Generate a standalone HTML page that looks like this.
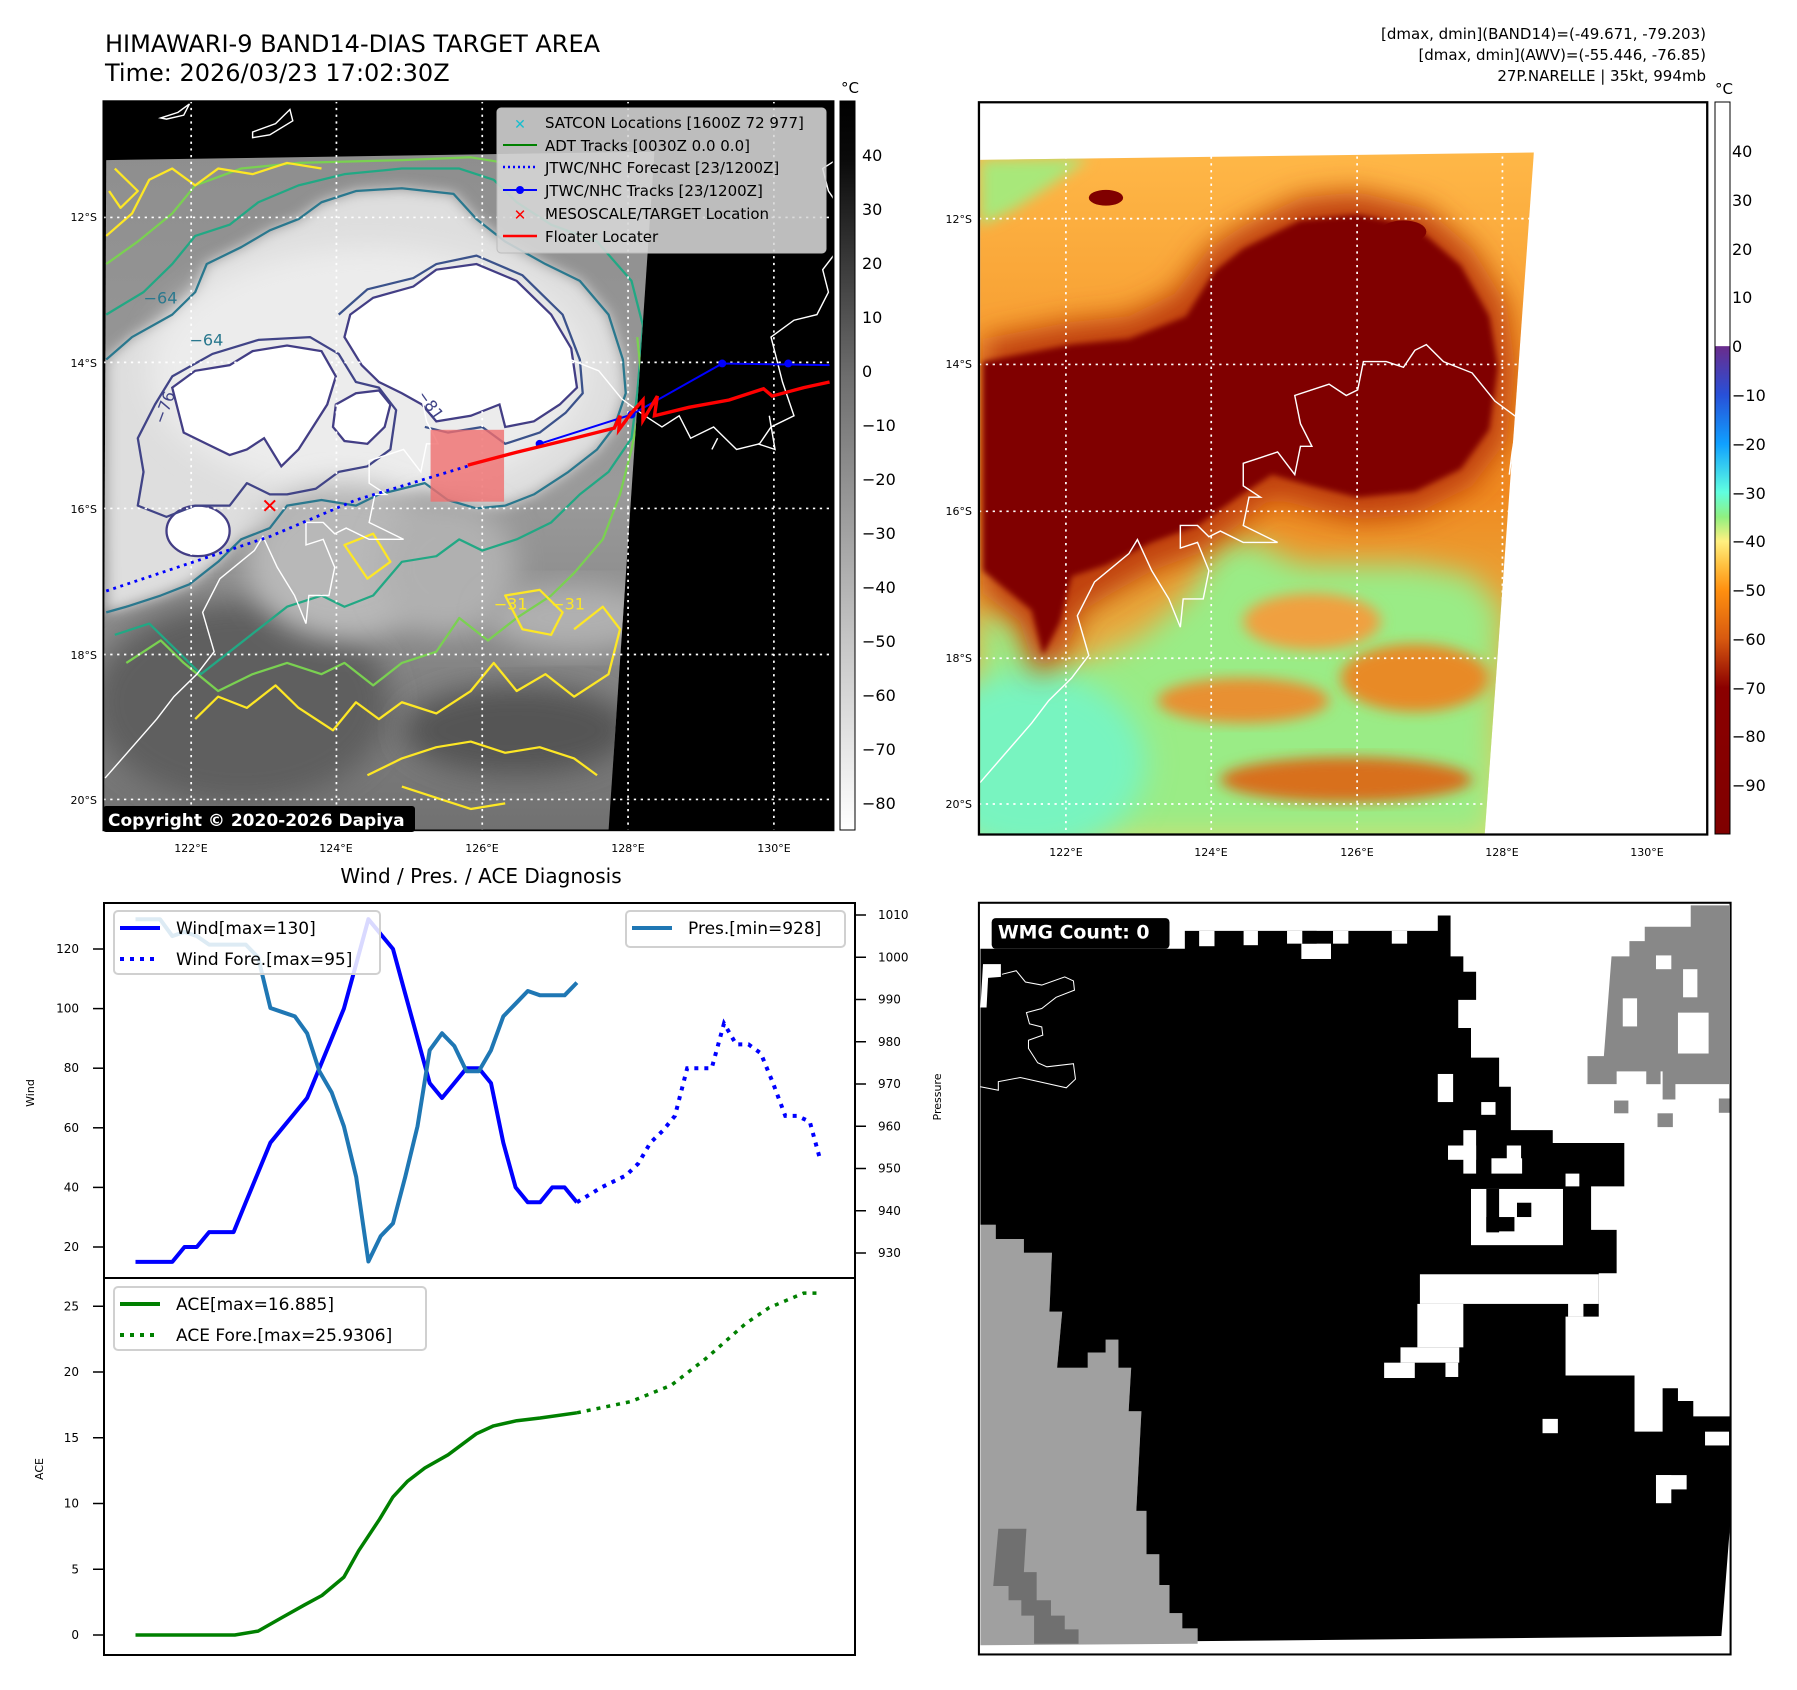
<!DOCTYPE html>
<html><head><meta charset="utf-8"><title>HIMAWARI-9 BAND14 DIAS</title>
<style>
html,body{margin:0;padding:0;background:#fff;}
svg{display:block;font-family:"DejaVu Sans","Liberation Sans",sans-serif;}
</style></head>
<body>
<svg id="fig" width="1797" height="1690" viewBox="0 0 1797 1690" xmlns="http://www.w3.org/2000/svg">
<defs>
  <clipPath id="clipL"><rect x="180" y="180" width="1272" height="1298"/></clipPath>
  <clipPath id="clipR"><rect x="138" y="181" width="1273" height="1296"/></clipPath>
  <clipPath id="dataR"><path d="M140,283 L1108,270 L1022,1477 L140,1477 Z"/></clipPath>
  <clipPath id="dataL"><path d="M185,285 L1140,270 L1060,1478 L180,1478 Z"/></clipPath>
  <filter id="blur12" x="-20%" y="-20%" width="140%" height="140%"><feGaussianBlur stdDeviation="12"/></filter>
  <filter id="blur25" x="-20%" y="-20%" width="140%" height="140%"><feGaussianBlur stdDeviation="25"/></filter>
  <filter id="blur5"><feGaussianBlur stdDeviation="5"/></filter>
  <linearGradient id="cbL" x1="0" y1="0" x2="0" y2="1">
    <stop offset="0" stop-color="#000"/><stop offset="0.08" stop-color="#0a0a0a"/>
    <stop offset="0.38" stop-color="#6e6e6e"/><stop offset="0.75" stop-color="#c8c8c8"/>
    <stop offset="1" stop-color="#ffffff"/>
  </linearGradient>
  <linearGradient id="cbR" x1="0" y1="0" x2="0" y2="1">
    <stop offset="0" stop-color="#fff"/><stop offset="0.333" stop-color="#fff"/>
    <stop offset="0.334" stop-color="#6a2c8c"/><stop offset="0.40" stop-color="#2850d8"/>
    <stop offset="0.467" stop-color="#10a0ff"/><stop offset="0.533" stop-color="#60ffe0"/>
    <stop offset="0.567" stop-color="#90f080"/><stop offset="0.60" stop-color="#fff080"/>
    <stop offset="0.633" stop-color="#ffc040"/><stop offset="0.667" stop-color="#ff9010"/>
    <stop offset="0.733" stop-color="#d85a10"/><stop offset="0.80" stop-color="#8b0000"/>
    <stop offset="1" stop-color="#800000"/>
  </linearGradient>
  <linearGradient id="grayBase" x1="0" y1="0" x2="0" y2="1">
    <stop offset="0" stop-color="#8e8e8e"/><stop offset="0.5" stop-color="#9a9a9a"/><stop offset="1" stop-color="#707070"/>
  </linearGradient>
  <linearGradient id="rBase" x1="0" y1="0" x2="0" y2="1">
    <stop offset="0" stop-color="#ffb848"/><stop offset="0.5" stop-color="#f08a20"/><stop offset="1" stop-color="#d8e070"/>
  </linearGradient>
</defs>

<text x="105" y="52" font-size="24" fill="#000">HIMAWARI-9 BAND14-DIAS TARGET AREA</text>
<text x="105" y="81" font-size="24" fill="#000">Time: 2026/03/23 17:02:30Z</text>
<g font-size="15" text-anchor="end" fill="#000">
  <text x="1706" y="39">[dmax, dmin](BAND14)=(-49.671, -79.203)</text>
  <text x="1706" y="60">[dmax, dmin](AWV)=(-55.446, -76.85)</text>
  <text x="1706" y="81">27P.NARELLE | 35kt, 994mb</text>
</g>

<!-- LEFT MAP -->
<g>
 <g transform="scale(0.5741,0.5618)">
  <g clip-path="url(#clipL)">
   <rect x="180" y="180" width="1272" height="1298" fill="#000"/>
   <g clip-path="url(#dataL)">
    <rect x="180" y="260" width="1000" height="1230" fill="url(#grayBase)"/>
    <ellipse cx="420" cy="1250" rx="260" ry="180" fill="#5e5e5e" filter="url(#blur25)"/>
    <ellipse cx="900" cy="1300" rx="200" ry="80" fill="#555" filter="url(#blur25)"/>
    <path d="M185,640 L230,600 L300,560 L340,520 L360,470 L420,440 L470,410 L520,390 L560,360 L620,340 L700,335 L790,345 L830,390 L880,430 L950,470 L1010,500 L1060,560 L1085,640 L1090,700 L1070,760 L1040,800 L990,840 L930,880 L880,900 L830,905 L780,890 L740,860 L700,870 L660,880 L620,900 L560,890 L500,900 L470,940 L420,960 L380,1000 L330,1040 L280,1060 L220,1080 L185,1090 Z" fill="#dedede" filter="url(#blur12)"/>
    <ellipse cx="640" cy="660" rx="380" ry="220" fill="#ececec" filter="url(#blur25)"/>
    <ellipse cx="600" cy="1000" rx="170" ry="140" fill="#b8b8b8" filter="url(#blur25)"/>
    <ellipse cx="780" cy="1010" rx="120" ry="120" fill="#b0b0b0" filter="url(#blur25)"/>
    <ellipse cx="1000" cy="1100" rx="150" ry="60" fill="#b0b0b0" filter="url(#blur25)"/>
    <path d="M300,690 L340,660 L400,650 L440,625 L500,615 L560,625 L585,670 L570,720 L545,760 L520,800 L490,830 L460,780 L430,800 L400,810 L360,790 L320,770 L310,730 Z" fill="#fff" stroke="#433e85" stroke-width="4"/>
    <path d="M610,560 L650,530 L720,510 L760,480 L830,470 L900,500 L960,560 L995,620 L1005,690 L975,720 L930,750 L880,760 L870,720 L820,740 L760,750 L735,720 L700,700 L660,680 L630,650 L600,600 Z" fill="#fff" stroke="#433e85" stroke-width="4"/>
    <path d="M585,720 L620,700 L660,695 L680,720 L670,760 L640,790 L600,785 L580,760 Z" fill="#fff" stroke="#433e85" stroke-width="4"/>
    <ellipse cx="345" cy="945" rx="55" ry="45" fill="#fff" stroke="#433e85" stroke-width="4"/>
    <g fill="none" stroke-width="4" stroke-linejoin="round">
     <path d="M240,900 L250,840 L240,780 L270,720 L300,670 L370,630 L450,605 L540,600 L590,630 L620,680 L660,690 L690,730 L680,800 L640,830 L590,840 L550,870 L500,880 L470,880 L430,860 L400,900 L340,900 L290,920 Z" stroke="#414487"/>
     <path d="M590,560 L640,515 L720,495 L760,470 L830,455 L910,490 L980,560 L1010,640 L1015,700 L985,735 L940,770 L880,790 L840,760 L780,770 L740,760" stroke="#3b528b"/>
     <path d="M185,640 L230,600 L300,560 L340,520 L360,470 L420,440 L470,410 L520,390 L560,360 L620,340 L700,335 L790,345 L830,390 L880,430 L950,470 L1010,500 L1060,560 L1085,640 L1090,700 L1070,760 L1040,800 L990,840 L930,880 L880,900 L830,905 L780,890 L740,860 L700,870 L660,880 L620,900 L560,890 L500,900 L470,940 L420,960 L380,1000 L330,1040 L280,1060 L220,1080 L185,1090" stroke="#2a788e"/>
     <path d="M185,560 L250,520 L300,470 L340,420 L400,400 L450,360 L520,330 L600,310 L700,300 L800,300 L860,320 L900,360 L960,400 L1040,430 L1100,500 L1120,580 L1110,700 L1100,780 L1060,840 L1010,880 L960,930 L900,960 L840,980 L800,960 L760,990 L700,1000 L650,1060 L600,1080 L560,1060 L500,1080 L450,1120 L400,1160 L350,1200 L300,1150 L260,1110 L200,1130" stroke="#22a884"/>
     <path d="M185,470 L240,430 L300,380 L340,330 L420,300 L520,290 L700,285 L820,280 L880,290 M1110,600 L1120,700 L1100,800 L1080,880 L1050,960 L1000,1020 L960,1060 L900,1100 L850,1140 L800,1100 L760,1160 L700,1180 L650,1220 L600,1180 L560,1200 L500,1180 L440,1200 L380,1230 L320,1180 L280,1140 L220,1180" stroke="#7ad151"/>
     <path d="M185,420 L230,380 L260,320 L300,300 L340,330 L380,300 L440,310 L500,290 L560,300 M200,300 L240,340 L210,370 L190,340 M1000,1120 L1050,1080 L1080,1120 L1060,1200 L1000,1240 L950,1200 L900,1230 L860,1180 L820,1230 L760,1270 L700,1250 L660,1280 L620,1250 L580,1300 L520,1260 L480,1220 L430,1260 L380,1240 L340,1280 M640,1380 L700,1350 L760,1330 L820,1320 L880,1340 L940,1330 L1000,1350 L1040,1380 M700,1400 L760,1420 L820,1440 L880,1430 M880,1060 L940,1050 L980,1090 L960,1130 L910,1120 Z M600,970 L650,950 L680,1000 L640,1030 Z" stroke="#fde725"/>
    </g>
    <g font-size="28">
     <text x="250" y="540" fill="#2a788e">−64</text>
     <text x="330" y="615" fill="#2a788e">−64</text>
     <text x="720" y="720" fill="#414487" transform="rotate(55 740 715)">−81</text>
     <text x="860" y="1085" fill="#fde725">−31</text>
     <text x="960" y="1085" fill="#fde725">−31</text>
     <text x="260" y="760" fill="#414487" transform="rotate(-70 270 740)">−76</text>
    </g>
   </g>
   <g fill="none" stroke="#fff" stroke-width="2.5">
    <path transform="translate(43,0)" d="M140,1385 L230,1280 L260,1240 L300,1200 L330,1160 L310,1090 L340,1030 L400,980 L415,955 L440,1010 L470,1060 L490,1110 L495,1060 L530,1060 L540,1010 L520,960 L490,970 L490,930 L520,930 L540,950 L560,940 L600,960 L660,960 L600,930 L610,880 L630,880 L600,860 L600,820 L630,810 L660,800 L690,840 L700,790 L720,790 L700,750 L690,700 L750,680 L780,700 L800,690 L810,640 L850,640 L880,650 L900,620 L920,610 L950,640 L1000,660 L1040,710 L1080,740 L1110,760 L1140,740 L1160,780 L1200,760 L1240,800 L1280,790 L1300,760 L1340,740 L1320,680 L1300,600 L1340,570 L1380,560 L1400,520 L1390,480 L1420,440 L1440,400 L1400,340 L1390,300 L1420,280"/>
    <path d="M1320,790 L1350,800 L1340,740 M1250,780 L1240,800"/>
    <path d="M280,210 L310,200 L330,185 L320,205 L290,212 Z"/>
    <path d="M440,235 L480,220 L505,195 L510,215 L470,240 L440,245 Z"/>
   </g>
   <g stroke="#fff" stroke-width="3" stroke-dasharray="4,8" fill="none">
    <line x1="333" y1="180" x2="333" y2="1478"/><line x1="586" y1="180" x2="586" y2="1478"/>
    <line x1="840" y1="180" x2="840" y2="1478"/><line x1="1094" y1="180" x2="1094" y2="1478"/>
    <line x1="1348" y1="180" x2="1348" y2="1478"/>
    <line x1="180" y1="387" x2="1452" y2="387"/><line x1="180" y1="645" x2="1452" y2="645"/>
    <line x1="180" y1="905" x2="1452" y2="905"/><line x1="180" y1="1165" x2="1452" y2="1165"/>
    <line x1="180" y1="1423" x2="1452" y2="1423"/>
   </g>
   <rect x="750" y="765" width="128" height="128" fill="rgba(240,110,110,0.8)"/>
   <polyline points="185,1052 470,955 620,890 820,828" fill="none" stroke="#0000ff" stroke-width="5" stroke-dasharray="5,8"/>
   <g>
    <polyline points="940,790 1100,738 1258,647 1445,650" fill="none" stroke="#0000ff" stroke-width="3.5"/>
    <circle cx="940" cy="790" r="7" fill="#00f"/><circle cx="1100" cy="738" r="7" fill="#00f"/>
    <circle cx="1258" cy="647" r="7" fill="#00f"/><circle cx="1373" cy="647" r="7" fill="#00f"/>
   </g>
   <polyline points="815,828 900,805 1000,780 1070,762 1080,740 1078,765 1100,735 1120,712 1120,748 1145,705 1140,740 1200,725 1270,712 1330,692 1345,705 1400,690 1445,680" fill="none" stroke="#ff0000" stroke-width="6"/>
   <text x="470" y="913" font-size="36" font-weight="bold" fill="#ff0000" text-anchor="middle">✕</text>
  </g>
  <rect x="180" y="180" width="1272" height="1298" fill="none" stroke="#000" stroke-width="3"/>
 </g>
 <g>
  <rect x="497" y="108" width="329" height="145" rx="4" fill="rgba(215,215,215,0.88)" stroke="#bbb"/>
  <g font-size="15" fill="#000">
   <text x="545" y="128">SATCON Locations [1600Z 72 977]</text>
   <text x="545" y="151">ADT Tracks [0030Z 0.0 0.0]</text>
   <text x="545" y="173">JTWC/NHC Forecast [23/1200Z]</text>
   <text x="545" y="196">JTWC/NHC Tracks [23/1200Z]</text>
   <text x="545" y="219">MESOSCALE/TARGET Location</text>
   <text x="545" y="242">Floater Locater</text>
  </g>
  <text x="520" y="129" font-size="14" fill="#17becf" text-anchor="middle" font-weight="bold">✕</text>
  <line x1="503" y1="145" x2="537" y2="145" stroke="#008000" stroke-width="2"/>
  <line x1="503" y1="167" x2="537" y2="167" stroke="#0000ff" stroke-width="2.5" stroke-dasharray="2,3"/>
  <line x1="503" y1="190" x2="537" y2="190" stroke="#0000ff" stroke-width="2"/><circle cx="520" cy="190" r="4" fill="#00f"/>
  <text x="520" y="220" font-size="15" fill="#ff0000" text-anchor="middle" font-weight="bold">✕</text>
  <line x1="503" y1="236" x2="537" y2="236" stroke="#ff0000" stroke-width="2.5"/>
 </g>
 <g>
  <rect x="103" y="806" width="312" height="26" rx="3" fill="#000"/>
  <text x="108" y="826" font-size="17" font-weight="bold" fill="#fff">Copyright © 2020-2026 Dapiya</text>
 </g>
 <g font-size="11" fill="#000">
  <g text-anchor="end"><text x="97" y="221">12°S</text><text x="97" y="367">14°S</text><text x="97" y="513">16°S</text><text x="97" y="659">18°S</text><text x="97" y="804">20°S</text></g>
  <g text-anchor="middle"><text x="191" y="852">122°E</text><text x="336" y="852">124°E</text><text x="482" y="852">126°E</text><text x="628" y="852">128°E</text><text x="774" y="852">130°E</text></g>
 </g>
 <g>
  <rect x="840" y="101" width="15" height="729" fill="url(#cbL)" stroke="#000" stroke-width="1"/>
  <text x="850" y="93" font-size="15" text-anchor="middle">°C</text>
  <g font-size="16" fill="#000">
   <text x="862" y="161">40</text><text x="862" y="215">30</text><text x="862" y="269">20</text><text x="862" y="323">10</text><text x="862" y="377">0</text>
   <text x="862" y="431">−10</text><text x="862" y="485">−20</text><text x="862" y="539">−30</text><text x="862" y="593">−40</text><text x="862" y="647">−50</text><text x="862" y="701">−60</text><text x="862" y="755">−70</text><text x="862" y="809">−80</text>
  </g>
 </g>
</g>

<!-- RIGHT MAP -->
<g>
 <g transform="translate(900,0) scale(0.5721,0.5650)">
  <g clip-path="url(#clipR)">
   <rect x="138" y="181" width="1273" height="1296" fill="#fff"/>
   <g clip-path="url(#dataR)">
    <rect x="130" y="260" width="1000" height="1230" fill="url(#rBase)"/>
    <path d="M140,283 L330,280 L260,330 L200,370 L140,400 Z" fill="#a8e87a" filter="url(#blur12)"/>
    <path d="M140,1080 L200,1100 L260,1180 L330,1170 L420,1130 L500,1060 L560,960 L620,960 L700,1000 L800,1000 L900,1000 L1000,1020 L1050,1080 L1040,1200 L1030,1477 L140,1477 Z" fill="#9aec86" filter="url(#blur25)"/>
    <ellipse cx="230" cy="1350" rx="200" ry="160" fill="#78f4c0" filter="url(#blur25)"/>
    <ellipse cx="780" cy="1380" rx="220" ry="40" fill="#d8701a" filter="url(#blur12)"/>
    <ellipse cx="600" cy="1240" rx="150" ry="40" fill="#e89030" filter="url(#blur12)"/>
    <ellipse cx="900" cy="1200" rx="130" ry="60" fill="#e88a28" filter="url(#blur12)"/>
    <ellipse cx="720" cy="1100" rx="120" ry="50" fill="#f0a040" filter="url(#blur12)"/>
    <path d="M145,600 L300,570 L400,560 L480,520 L540,440 L600,400 L700,350 L800,340 L920,370 L1000,440 L1060,540 L1075,650 L1060,780 L1000,860 L900,910 L800,920 L720,900 L650,880 L590,930 L520,980 L440,1010 L370,1050 L320,1080 L290,1150 L240,1200 L210,1100 L145,1050 Z" fill="#c04010" filter="url(#blur25)"/>
    <path d="M145,640 L300,610 L400,600 L500,560 L550,480 L600,440 L700,390 L800,380 L900,400 L980,470 L1030,560 L1045,650 L1030,760 L980,830 L900,870 L800,880 L720,860 L650,840 L590,880 L520,930 L440,960 L360,1000 L300,1020 L280,1100 L250,1160 L230,1080 L145,1010 Z" fill="#800000" filter="url(#blur5)"/>
    <ellipse cx="360" cy="350" rx="30" ry="14" fill="#800000"/>
    <ellipse cx="880" cy="410" rx="40" ry="20" fill="#800000"/>
   </g>
   <path d="M140,1385 L230,1280 L260,1240 L300,1200 L330,1160 L310,1090 L340,1030 L400,980 L415,955 L440,1010 L470,1060 L490,1110 L495,1060 L530,1060 L540,1010 L520,960 L490,970 L490,930 L520,930 L540,950 L560,940 L600,960 L660,960 L600,930 L610,880 L630,880 L600,860 L600,820 L630,810 L660,800 L690,840 L700,790 L720,790 L700,750 L690,700 L750,680 L780,700 L800,690 L810,640 L850,640 L880,650 L900,620 L920,610 L950,640 L1000,660 L1040,710 L1080,740 L1070,800 L1065,840" fill="none" stroke="#fff" stroke-width="2.5"/>
   <g stroke="#fff" stroke-width="3" stroke-dasharray="4,8" fill="none">
    <line x1="290" y1="181" x2="290" y2="1477"/><line x1="544" y1="181" x2="544" y2="1477"/>
    <line x1="799" y1="181" x2="799" y2="1477"/><line x1="1053" y1="181" x2="1053" y2="1477"/>
    <line x1="1307" y1="181" x2="1307" y2="1477"/>
    <line x1="138" y1="387" x2="1411" y2="387"/><line x1="138" y1="645" x2="1411" y2="645"/>
    <line x1="138" y1="905" x2="1411" y2="905"/><line x1="138" y1="1165" x2="1411" y2="1165"/>
    <line x1="138" y1="1423" x2="1411" y2="1423"/>
   </g>
  </g>
  <rect x="138" y="181" width="1273" height="1296" fill="none" stroke="#000" stroke-width="4"/>
 </g>
 <g font-size="11" fill="#000">
  <g text-anchor="end"><text x="972" y="223">12°S</text><text x="972" y="368">14°S</text><text x="972" y="515">16°S</text><text x="972" y="662">18°S</text><text x="972" y="808">20°S</text></g>
  <g text-anchor="middle"><text x="1066" y="856">122°E</text><text x="1211" y="856">124°E</text><text x="1357" y="856">126°E</text><text x="1502" y="856">128°E</text><text x="1647" y="856">130°E</text></g>
 </g>
 <g>
  <rect x="1715" y="102" width="15" height="732" fill="url(#cbR)" stroke="#000" stroke-width="1"/>
  <text x="1724" y="94" font-size="15" text-anchor="middle">°C</text>
  <g font-size="16" fill="#000">
   <text x="1732" y="157">40</text><text x="1732" y="206">30</text><text x="1732" y="255">20</text><text x="1732" y="303">10</text><text x="1732" y="352">0</text>
   <text x="1732" y="401">−10</text><text x="1732" y="450">−20</text><text x="1732" y="499">−30</text><text x="1732" y="547">−40</text><text x="1732" y="596">−50</text><text x="1732" y="645">−60</text><text x="1732" y="694">−70</text><text x="1732" y="742">−80</text><text x="1732" y="791">−90</text>
  </g>
 </g>
</g>

<!-- WIND / PRES / ACE -->
<g>
 <text x="481" y="883" font-size="20" text-anchor="middle">Wind / Pres. / ACE Diagnosis</text>
 <g id="windAxes"></g>
 <g id="aceAxes"></g>
 <rect x="104" y="903" width="751" height="375" fill="none" stroke="#000" stroke-width="2"/>
 <rect x="104" y="1278" width="751" height="377" fill="none" stroke="#000" stroke-width="2"/>
 <text transform="translate(34,1093) rotate(-90)" font-size="11" text-anchor="middle">Wind</text>
 <text transform="translate(941,1097) rotate(-90)" font-size="11" text-anchor="middle">Pressure</text>
 <text transform="translate(43,1469) rotate(-90)" font-size="11" text-anchor="middle">ACE</text>
 <g id="legends"></g>
</g>

<!-- WMG -->
<g>
 <g transform="translate(960,890) scale(0.511)">
  <rect x="37" y="25" width="1471" height="1471" fill="#fff"/>
  <path d="M40,655 L70,655 L70,683 L125,683 L125,710 L180,710 L175,825 L200,825 L190,935 L250,935 L250,905 L285,905 L285,880 L310,880 L310,935 L335,935 L330,1020 L355,1020 L345,1215 L365,1215 L365,1300 L390,1300 L390,1360 L410,1360 L410,1415 L435,1415 L435,1445 L465,1445 L465,1475 L40,1478 Z" fill="#a0a0a0"/>
  <path d="M75,1250 L130,1250 L125,1335 L150,1335 L150,1390 L178,1390 L178,1420 L205,1420 L205,1447 L232,1447 L232,1475 L145,1475 L145,1420 L120,1420 L120,1390 L95,1390 L95,1362 L65,1362 Z" fill="#707070"/>
  <path d="M1430,30 L1505,30 L1505,380 L1400,380 L1400,410 L1375,410 L1375,355 L1285,355 L1285,380 L1228,380 L1228,325 L1260,325 L1275,130 L1310,130 L1310,100 L1340,100 L1340,72 L1430,72 Z" fill="#888"/>
  <g fill="#fff"><rect x="1362" y="128" width="30" height="27"/><rect x="1297" y="212" width="28" height="55"/><rect x="1415" y="155" width="28" height="55"/><rect x="1405" y="240" width="60" height="80"/></g>
  <g fill="#888"><rect x="1280" y="412" width="28" height="25"/><rect x="1365" y="437" width="30" height="27"/><rect x="1485" y="408" width="22" height="28"/><rect x="1343" y="352" width="28" height="28"/></g>
  <path d="M40,115 L440,115 L440,80 L935,80 L935,50 L960,50 L960,130 L985,130 L985,160 L1010,160 L1010,215 L975,215 L975,270 L1000,270 L1000,328 L1055,328 L1055,385 L1078,385 L1078,470 L1160,470 L1160,495 L1300,495 L1300,580 L1235,580 L1235,665 L1285,665 L1285,750 L1250,750 L1250,835 L1185,835 L1185,950 L1320,950 L1320,1060 L1375,1060 L1375,975 L1405,975 L1405,1000 L1435,1000 L1435,1030 L1508,1030 L1508,1230 L1490,1460 L465,1470 L465,1445 L435,1445 L435,1415 L410,1415 L410,1360 L390,1360 L390,1300 L365,1300 L365,1215 L345,1215 L355,1020 L330,1020 L335,935 L310,935 L310,880 L285,880 L285,905 L250,905 L250,935 L190,935 L200,825 L175,825 L180,710 L125,710 L125,683 L70,683 L70,655 L40,655 Z" fill="#000"/>
  <g fill="#fff">
   <rect x="1000" y="585" width="180" height="110"/><rect x="900" y="752" width="350" height="58"/>
   <rect x="895" y="810" width="90" height="85"/><rect x="862" y="895" width="115" height="30"/><rect x="830" y="925" width="60" height="30"/>
   <rect x="950" y="925" width="25" height="28"/><rect x="1190" y="805" width="30" height="30"/>
   <rect x="935" y="360" width="30" height="55"/><rect x="1020" y="415" width="28" height="25"/>
   <rect x="955" y="500" width="55" height="28"/><rect x="985" y="470" width="25" height="85"/>
   <rect x="1040" y="525" width="60" height="30"/><rect x="1070" y="500" width="28" height="30"/>
   <rect x="1140" y="1035" width="30" height="28"/><rect x="1458" y="1060" width="47" height="27"/>
   <rect x="1362" y="1145" width="60" height="28"/><rect x="1362" y="1145" width="30" height="55"/>
   <rect x="1185" y="555" width="27" height="25"/><rect x="468" y="80" width="30" height="30"/>
   <rect x="555" y="80" width="28" height="28"/><rect x="640" y="80" width="30" height="25"/><rect x="668" y="105" width="58" height="30"/>
   <rect x="845" y="80" width="30" height="25"/><rect x="730" y="80" width="30" height="25"/>
  </g>
  <g fill="#000"><rect x="1030" y="585" width="25" height="85"/><rect x="1030" y="640" width="55" height="28"/><rect x="1090" y="612" width="28" height="28"/><rect x="670" y="80" width="28" height="25"/></g>
  <path d="M40,230 L45,145 L80,145 L80,170 L55,172 L52,230 Z" fill="#fff"/>
  <path d="M40,385 L75,392 L75,375 L118,367 L208,387 L226,370 L222,340 L170,346 L152,338 L134,310 L134,294 L162,284 L160,268 L136,262 L130,240 L160,232 L188,210 L224,196 L222,178 L205,170 L160,186 L128,180 L110,158 L82,165" fill="none" stroke="#fff" stroke-width="2"/>
  <rect x="37" y="25" width="1471" height="1471" fill="none" stroke="#000" stroke-width="4"/>
  <g>
   <rect x="62" y="55" width="348" height="60" rx="8" fill="#000"/>
   <text x="74" y="95" font-size="37" font-weight="bold" fill="#fff">WMG Count: 0</text>
  </g>
 </g>
</g>
</svg>

<script>
// ---- chart data ----
var windT = [0,1,2,3,4,5,6,7,8,9,10,11,12,13,14,15,16,17,18,19,20,21,22,23,24,25,26,27,28,29,30,31,32,33,34,35,36];
var windVals = [15,15,15,15,20,20,25,25,25,35,45,55,60,65,70,80,90,100,115,130,125,120,105,90,75,70,75,80,80,75,55,40,35,35,40,40,35];
var presVals = [1009,1009,1009,1005,1006,1005,1003,1003,1003,1003,1000,988,987,986,982,973,968,960,948,928,934,937,948,960,978,982,979,973,973,978,986,989,992,991,991,991,994];
var windForeT = [36,38,40,41,42,43,44,45,46,47,48,49,50,51,52,53,54,55,55.8];
var windForeVals = [35,40,44,48,55,59,64,80,80,80,95,88,88,85,75,64,64,62,50];
var aceT = [0,8.1,10,11.9,13.8,15.2,17,18.2,19.9,21,22.2,23.6,25.5,27.8,29.2,31.1,33,36];
var aceVals = [0,0,0.3,1.3,2.3,3,4.4,6.4,8.8,10.5,11.7,12.7,13.7,15.3,15.9,16.3,16.5,16.9];
var aceForeT = [36,40.4,43.7,46.5,49.8,51.7,54.5,55.8];
var aceForeVals = [16.9,17.75,19,21,23.7,24.9,26,26];
var windTicks = [20,40,60,80,100,120];
var presTicks = [930,940,950,960,970,980,990,1000,1010];
var aceTicks = [0,5,10,15,20,25];

function xT(t){ return 135.5 + t*12.26; }
function yW(v){ return 1247 - (v-20)*2.98; }
function yP(p){ return 1253 - (p-930)*4.225; }
function yA(a){ return 1635 - a*13.15; }

var NS = "http://www.w3.org/2000/svg";
function mk(tag, attrs, parent){
  var el = document.createElementNS(NS, tag);
  for (var k in attrs) el.setAttribute(k, attrs[k]);
  parent.appendChild(el);
  return el;
}
function pts(ts, vs, yf){
  var s = [];
  for (var i=0;i<ts.length;i++) s.push(xT(ts[i]).toFixed(1)+","+yf(vs[i]).toFixed(1));
  return s.join(" ");
}
var wAx = document.getElementById("windAxes");
var aAx = document.getElementById("aceAxes");
var lg = document.getElementById("legends");

windTicks.forEach(function(v){
  var y = yW(v);
  var tk = mk("line",{x1:93,y1:y,x2:104,y2:y,stroke:"#000","stroke-width":1.5},wAx);
  
  
  var tx = mk("text",{x:79,y:y+4,"font-size":12,"text-anchor":"end"},wAx);
  tx.textContent = v;
  
  
});
presTicks.forEach(function(p){
  var y = yP(p);
  var tk = mk("line",{x1:855,y1:y,x2:866,y2:y,stroke:"#000","stroke-width":1.5},wAx);
  
  
  var tx = mk("text",{x:878,y:y+4,"font-size":12},wAx);
  tx.textContent = p;
  
  
});
aceTicks.forEach(function(a){
  var y = yA(a);
  var tk = mk("line",{x1:93,y1:y,x2:104,y2:y,stroke:"#000","stroke-width":1.5},aAx);
  
  
  var tx = mk("text",{x:79,y:y+4,"font-size":12,"text-anchor":"end"},aAx);
  tx.textContent = a;
  
  
});

var l1 = mk("polyline",{points:pts(windT,windVals,yW),fill:"none",stroke:"#0000ff","stroke-width":4,"stroke-linejoin":"round"},wAx);


var l2 = mk("polyline",{points:pts(windForeT,windForeVals,yW),fill:"none",stroke:"#0000ff","stroke-width":4,"stroke-dasharray":"4,6"},wAx);


var l3 = mk("polyline",{points:pts(windT,presVals,yP),fill:"none",stroke:"#1f77b4","stroke-width":4,"stroke-linejoin":"round"},wAx);


var l4 = mk("polyline",{points:pts(aceT,aceVals,yA),fill:"none",stroke:"#008000","stroke-width":3.5,"stroke-linejoin":"round"},aAx);


var l5 = mk("polyline",{points:pts(aceForeT,aceForeVals,yA),fill:"none",stroke:"#008000","stroke-width":3.5,"stroke-dasharray":"4,6"},aAx);



function legendBox(x,y,w,h,name){
  var g = mk("g",{},lg);
  
  
  mk("rect",{x:x,y:y,width:w,height:h,rx:4,fill:"rgba(255,255,255,0.85)",stroke:"#d0d0d0","stroke-width":2},g);
  return g;
}
function entry(g,x,y,color,dash,label){
  var a = {x1:x,y1:y-6,x2:x+40,y2:y-6,stroke:color,"stroke-width":4};
  if (dash) a["stroke-dasharray"] = "4,6";
  mk("line",a,g);
  var t = mk("text",{x:x+56,y:y,"font-size":17},g);
  t.textContent = label;
}
var g1 = legendBox(114,911,266,63,'wind-legend');
entry(g1,120,934,"#0000ff",false,"Wind[max=130]");
entry(g1,120,965,"#0000ff",true,"Wind Fore.[max=95]");
var g2 = legendBox(626,911,219,36,'pressure-legend');
entry(g2,632,934,"#1f77b4",false,"Pres.[min=928]");
var g3 = legendBox(114,1287,312,63,'ace-legend');
entry(g3,120,1310,"#008000",false,"ACE[max=16.885]");
entry(g3,120,1341,"#008000",true,"ACE Fore.[max=25.9306]");
</script>
</body></html>
